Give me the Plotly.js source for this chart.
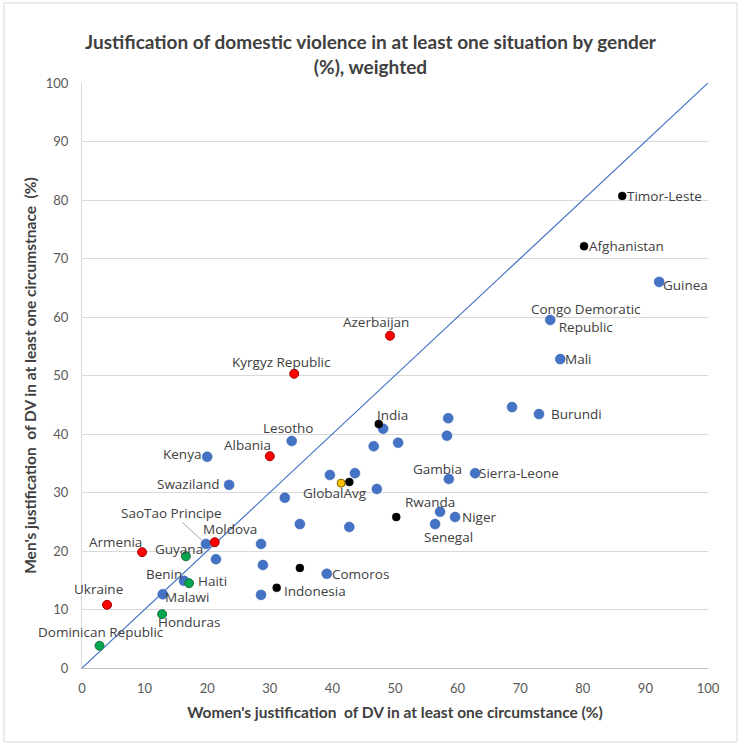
<!DOCTYPE html>
<html>
<head>
<meta charset="utf-8">
<script src="https://cdn.plot.ly/plotly-3.0.1.min.js"></script>
<style>
  html, body { margin: 0; padding: 0; background: #ffffff; }
  #chart { width: 741px; height: 746px; }
</style>
</head>
<body>
<div id="chart"></div>
<script>
// ---------------- DATA ----------------
const countries = [
  "Timor-Leste", "Afghanistan", "Guinea", "Congo Demoratic Republic", "Mali",
  "", "Burundi", "Azerbaijan", "Kyrgyz Republic", "India",
  "", "", "", "Lesotho", "",
  "", "Albania", "Kenya", "", "",
  "GlobalAvg", "", "", "Gambia", "Sierra-Leone",
  "Swaziland", "", "Rwanda", "Niger", "Senegal",
  "", "", "", "SaoTao Principe", "Moldova",
  "", "Armenia", "Guyana", "", "",
  "", "Comoros", "Benin", "Haiti", "Malawi",
  "", "Indonesia", "Ukraine", "Honduras", "Dominican Republic"
];
// Women's justification of DV (%)
const women = [
  86.3, 80.2, 92.2, 74.8, 76.4,
  68.7, 73.0, 49.2, 33.9, 47.4,
  48.1, 58.5, 58.3, 33.5, 46.6,
  50.5, 30.0, 20.0, 39.6, 43.6,
  41.4, 42.7, 47.1, 58.6, 62.8,
  23.5, 32.4, 57.2, 59.6, 56.4,
  50.2, 34.8, 42.7, 19.8, 21.2,
  28.6, 9.6, 16.6, 21.4, 28.9,
  34.8, 39.1, 16.3, 17.1, 12.9,
  28.6, 31.1, 4.0, 12.8, 2.8
];
// Men's justification of DV (%)
const men = [
  80.7, 72.1, 66.0, 59.5, 52.8,
  44.6, 43.4, 56.8, 50.3, 41.7,
  40.9, 42.7, 39.7, 38.8, 37.9,
  38.5, 36.2, 36.1, 33.0, 33.3,
  31.6, 31.8, 30.6, 32.3, 33.3,
  31.3, 29.1, 26.7, 25.8, 24.6,
  25.8, 24.6, 24.1, 21.2, 21.5,
  21.2, 19.8, 19.1, 18.6, 17.6,
  17.1, 16.1, 14.9, 14.5, 12.6,
  12.5, 13.7, 10.8, 9.2, 3.8
];
const regions = [
  "Asia", "Asia", "Africa", "Africa", "Africa",
  "Africa", "Africa", "Europe", "Europe", "Asia",
  "Africa", "Africa", "Africa", "Africa", "Africa",
  "Africa", "Europe", "Africa", "Africa", "Africa",
  "Global", "Asia", "Africa", "Africa", "Africa",
  "Africa", "Africa", "Africa", "Africa", "Africa",
  "Asia", "Africa", "Africa", "Africa", "Europe",
  "Africa", "Europe", "LatAm", "Africa", "Africa",
  "Asia", "Africa", "Africa", "LatAm", "Africa",
  "Africa", "Asia", "Europe", "LatAm", "LatAm"
];
const regionOrder = ["Africa", "Europe", "LatAm", "Asia", "Global"];
const axisRange = [0, 100];
const tickValues = [0, 10, 20, 30, 40, 50, 60, 70, 80, 90, 100];

// ---------------- STYLES ----------------
const regionStyle = {
  Africa: { color: "#4472C4", size: 10, line: { color: "#3a64b0", width: 0.5 } },
  Europe: { color: "#FF0000", size: 9, line: { color: "#a00000", width: 1 } },
  LatAm:  { color: "#00A650", size: 9, line: { color: "#1f6f45", width: 1 } },
  Asia:   { color: "#000000", size: 8, line: { color: "#000000", width: 0.5 } },
  Global: { color: "#FFC000", size: 8, line: { color: "#7f6000", width: 1 } }
};
// label placement (pixel offsets of text from the point)
const labelPos = {
  "Timor-Leste": { xanchor: "left", xshift: 4, yshift: 0 },
  "Afghanistan": { xanchor: "left", xshift: 4, yshift: 0 },
  "Guinea": { xanchor: "left", xshift: 3, yshift: -3 },
  "Congo Demoratic Republic": { xanchor: "center", xshift: 36, yshift: 2, text: "Congo Demoratic<br>Republic" },
  "Mali": { xanchor: "left", xshift: 4, yshift: 0 },
  "Burundi": { xanchor: "left", xshift: 11, yshift: 0 },
  "Azerbaijan": { xanchor: "center", xshift: -14, yshift: 14 },
  "Kyrgyz Republic": { xanchor: "center", xshift: -13, yshift: 12 },
  "India": { xanchor: "left", xshift: -3, yshift: 9 },
  "Lesotho": { xanchor: "center", xshift: -4, yshift: 13 },
  "Albania": { xanchor: "right", xshift: 2, yshift: 11 },
  "Kenya": { xanchor: "right", xshift: -5, yshift: 3 },
  "Swaziland": { xanchor: "right", xshift: -8, yshift: 1 },
  "GlobalAvg": { xanchor: "center", xshift: -6, yshift: -10 },
  "Gambia": { xanchor: "center", xshift: -11, yshift: 10 },
  "Sierra-Leone": { xanchor: "left", xshift: 3, yshift: 0 },
  "Rwanda": { xanchor: "center", xshift: -10, yshift: 10 },
  "Niger": { xanchor: "left", xshift: 6, yshift: 0 },
  "Senegal": { xanchor: "center", xshift: 13, yshift: -13 },
  "Comoros": { xanchor: "left", xshift: 4, yshift: 0 },
  "Indonesia": { xanchor: "left", xshift: 6, yshift: -3 },
  "Moldova": { xanchor: "center", xshift: 15, yshift: 13 },
  "Armenia": { xanchor: "center", xshift: -27, yshift: 10 },
  "Guyana": { xanchor: "center", xshift: -7, yshift: 7 },
  "Benin": { xanchor: "center", xshift: -20, yshift: 7 },
  "Haiti": { xanchor: "left", xshift: 8, yshift: 2 },
  "Malawi": { xanchor: "left", xshift: 1, yshift: -3 },
  "Ukraine": { xanchor: "center", xshift: -9, yshift: 16 },
  "Honduras": { xanchor: "center", xshift: 27, yshift: -8 },
  "Dominican Republic": { xanchor: "center", xshift: 1, yshift: 14 }
};
const arrowLabels = {
  "SaoTao Principe": { ax: -34, ay: -31 }
};

const labelFont = { family: "Open Sans, Noto Sans, sans-serif", size: 13.5, color: "#404040" };
const axisFont = { family: "Lato, Open Sans, sans-serif", size: 13, color: "#595959" };
const axisTitleFont = { family: "Lato, Open Sans, sans-serif", size: 15.5, color: "#404040", weight: "bold" };

// ---------------- TRACES ----------------
const traces = [{
  x: axisRange, y: axisRange, mode: "lines", type: "scatter",
  line: { color: "#4472C4", width: 1.2 }, hoverinfo: "skip", showlegend: false
}];
regionOrder.forEach(function (r) {
  const xs = [], ys = [], ts = [];
  for (let i = 0; i < countries.length; i++) {
    if (regions[i] === r) { xs.push(women[i]); ys.push(men[i]); ts.push(countries[i]); }
  }
  traces.push({
    x: xs, y: ys, text: ts, name: r, type: "scatter", mode: "markers",
    marker: regionStyle[r], showlegend: false,
    hovertemplate: "%{text}<br>Women: %{x}%<br>Men: %{y}%<extra></extra>"
  });
});

// ---------------- ANNOTATIONS ----------------
const annotations = [];
for (let i = 0; i < countries.length; i++) {
  const name = countries[i];
  if (!name) continue;
  if (labelPos[name]) {
    const p = labelPos[name];
    annotations.push({
      x: women[i], y: men[i], xref: "x", yref: "y",
      text: p.text || name, showarrow: false,
      xanchor: p.xanchor, yanchor: "middle",
      xshift: p.xshift, yshift: p.yshift,
      font: labelFont, align: "center", borderpad: 0
    });
  } else if (arrowLabels[name]) {
    const a = arrowLabels[name];
    annotations.push({
      x: women[i], y: men[i], xref: "x", yref: "y",
      text: name, showarrow: true, arrowhead: 0, arrowwidth: 1,
      arrowcolor: "#a6a6a6", standoff: 5, ax: a.ax, ay: a.ay,
      font: labelFont, borderpad: 0
    });
  }
}

const layout = {
  width: 741, height: 746,
  paper_bgcolor: "#ffffff", plot_bgcolor: "#ffffff",
  margin: { l: 82, r: 33, t: 83, b: 78 },
  title: {
    text: "Justification of domestic violence in at least one situation by gender<br>(%), weighted",
    x: 0.5, xref: "container", xanchor: "center",
    y: 0.934, yref: "container", yanchor: "top",
    font: { family: "Lato, Open Sans, sans-serif", size: 19, color: "#404040", weight: "bold" }
  },
  xaxis: {
    range: axisRange, tickvals: tickValues, showgrid: false, zeroline: false,
    showline: true, linecolor: "#bfbfbf", linewidth: 1,
    ticks: "", ticklabelstandoff: 8, tickfont: axisFont, fixedrange: true,
    title: { text: "Women's justification  of DV in at least one circumstance (%)", font: axisTitleFont, standoff: 12 }
  },
  yaxis: {
    range: axisRange, tickvals: tickValues, showgrid: true, gridcolor: "#d9d9d9", gridwidth: 1,
    zeroline: false, showline: true, linecolor: "#d9d9d9", linewidth: 1,
    ticks: "", ticklabelstandoff: 10, tickfont: axisFont, fixedrange: true,
    title: { text: "Men's justification  of DV in at least one circumstnace  (%)", font: axisTitleFont, standoff: 5 }
  },
  annotations: annotations,
  shapes: [{
    type: "rect", xref: "paper", yref: "paper",
    x0: -0.1246, x1: 1.0463, y0: -0.1265, y1: 1.1368,
    line: { color: "#d9d9d9", width: 1 }, fillcolor: "rgba(0,0,0,0)", layer: "below"
  }],
  showlegend: false
};

Plotly.newPlot("chart", traces, layout, { displayModeBar: false, staticPlot: true });
</script>
</body>
</html>
